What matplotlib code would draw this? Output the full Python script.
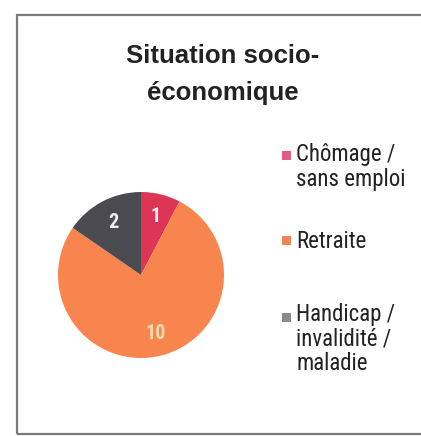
import matplotlib
matplotlib.use("Agg")
import matplotlib.pyplot as plt
from matplotlib.patches import Rectangle
from matplotlib import font_manager

categories = ["Chômage /\nsans emploi", "Retraite", "Handicap /\ninvalidité /\nmaladie"]
values = [1, 10, 2]
title_text = "Situation socio-\néconomique"

slice_colors = ["#dd3556", "#f7854d", "#4a4a50"]
legend_colors = ["#e25c86", "#ee8458", "#8a8a8e"]
label_colors = ["#f6eeee", "#fad8ae", "#eeeeee"]

names = {f.name for f in font_manager.fontManager.ttflist}
narrow = "Liberation Sans"
for cand in ["Liberation Sans Narrow", "Arial Narrow", "Roboto Condensed", "Archivo Narrow"]:
    if cand in names:
        narrow = cand
        break

W, H = 421, 436
fig = plt.figure(figsize=(W / 100, H / 100), dpi=100)

# frame
fig.add_artist(Rectangle((16.5 / W, 1 - 434 / H), 420 / W, (434 - 15) / H,
                         transform=fig.transFigure, fill=False,
                         edgecolor="#7a7a7a", linewidth=1.6))

title_gap = 38
title_base = 62 + title_gap * title_text.count("\n")
fig.text(223 / W, 1 - title_base / H, title_text, ha="center", va="baseline",
         fontsize=18.5, fontweight="bold", family="Liberation Sans",
         color="#222222", linespacing=1.67, multialignment="center")

cx, cy, r = 141, 275, 83
ax = fig.add_axes([(cx - r) / W, 1 - (cy + r) / H, 2 * r / W, 2 * r / H])
wedges, texts = ax.pie(values, colors=slice_colors, startangle=90, counterclock=False,
                       labels=[str(v) for v in values], labeldistance=0.72,
                       textprops=dict(fontsize=14.5, fontweight="bold", family=narrow))
for t, c in zip(texts, label_colors):
    t.set_color(c)
    t.set_ha("center")
    t.set_va("center")
ax.set_xlim(-1, 1)
ax.set_ylim(-1, 1)
ax.set_aspect("equal")
ax.axis("off")

# legend
base_y = [163, 248, 325]
gap = 22.5
for cat, col, y in zip(categories, legend_colors, base_y):
    fig.add_artist(Rectangle((282 / W, 1 - (y - 3) / H), 9 / W, 9 / H,
                             transform=fig.transFigure, facecolor=col, edgecolor="none"))
    last = y + gap * cat.count("\n")
    fig.text(296 / W, 1 - last / H, cat, ha="left", va="baseline", fontsize=16.5,
             family=narrow, color="#222222", linespacing=1.07)

fig.savefig("out.png", dpi=100)
